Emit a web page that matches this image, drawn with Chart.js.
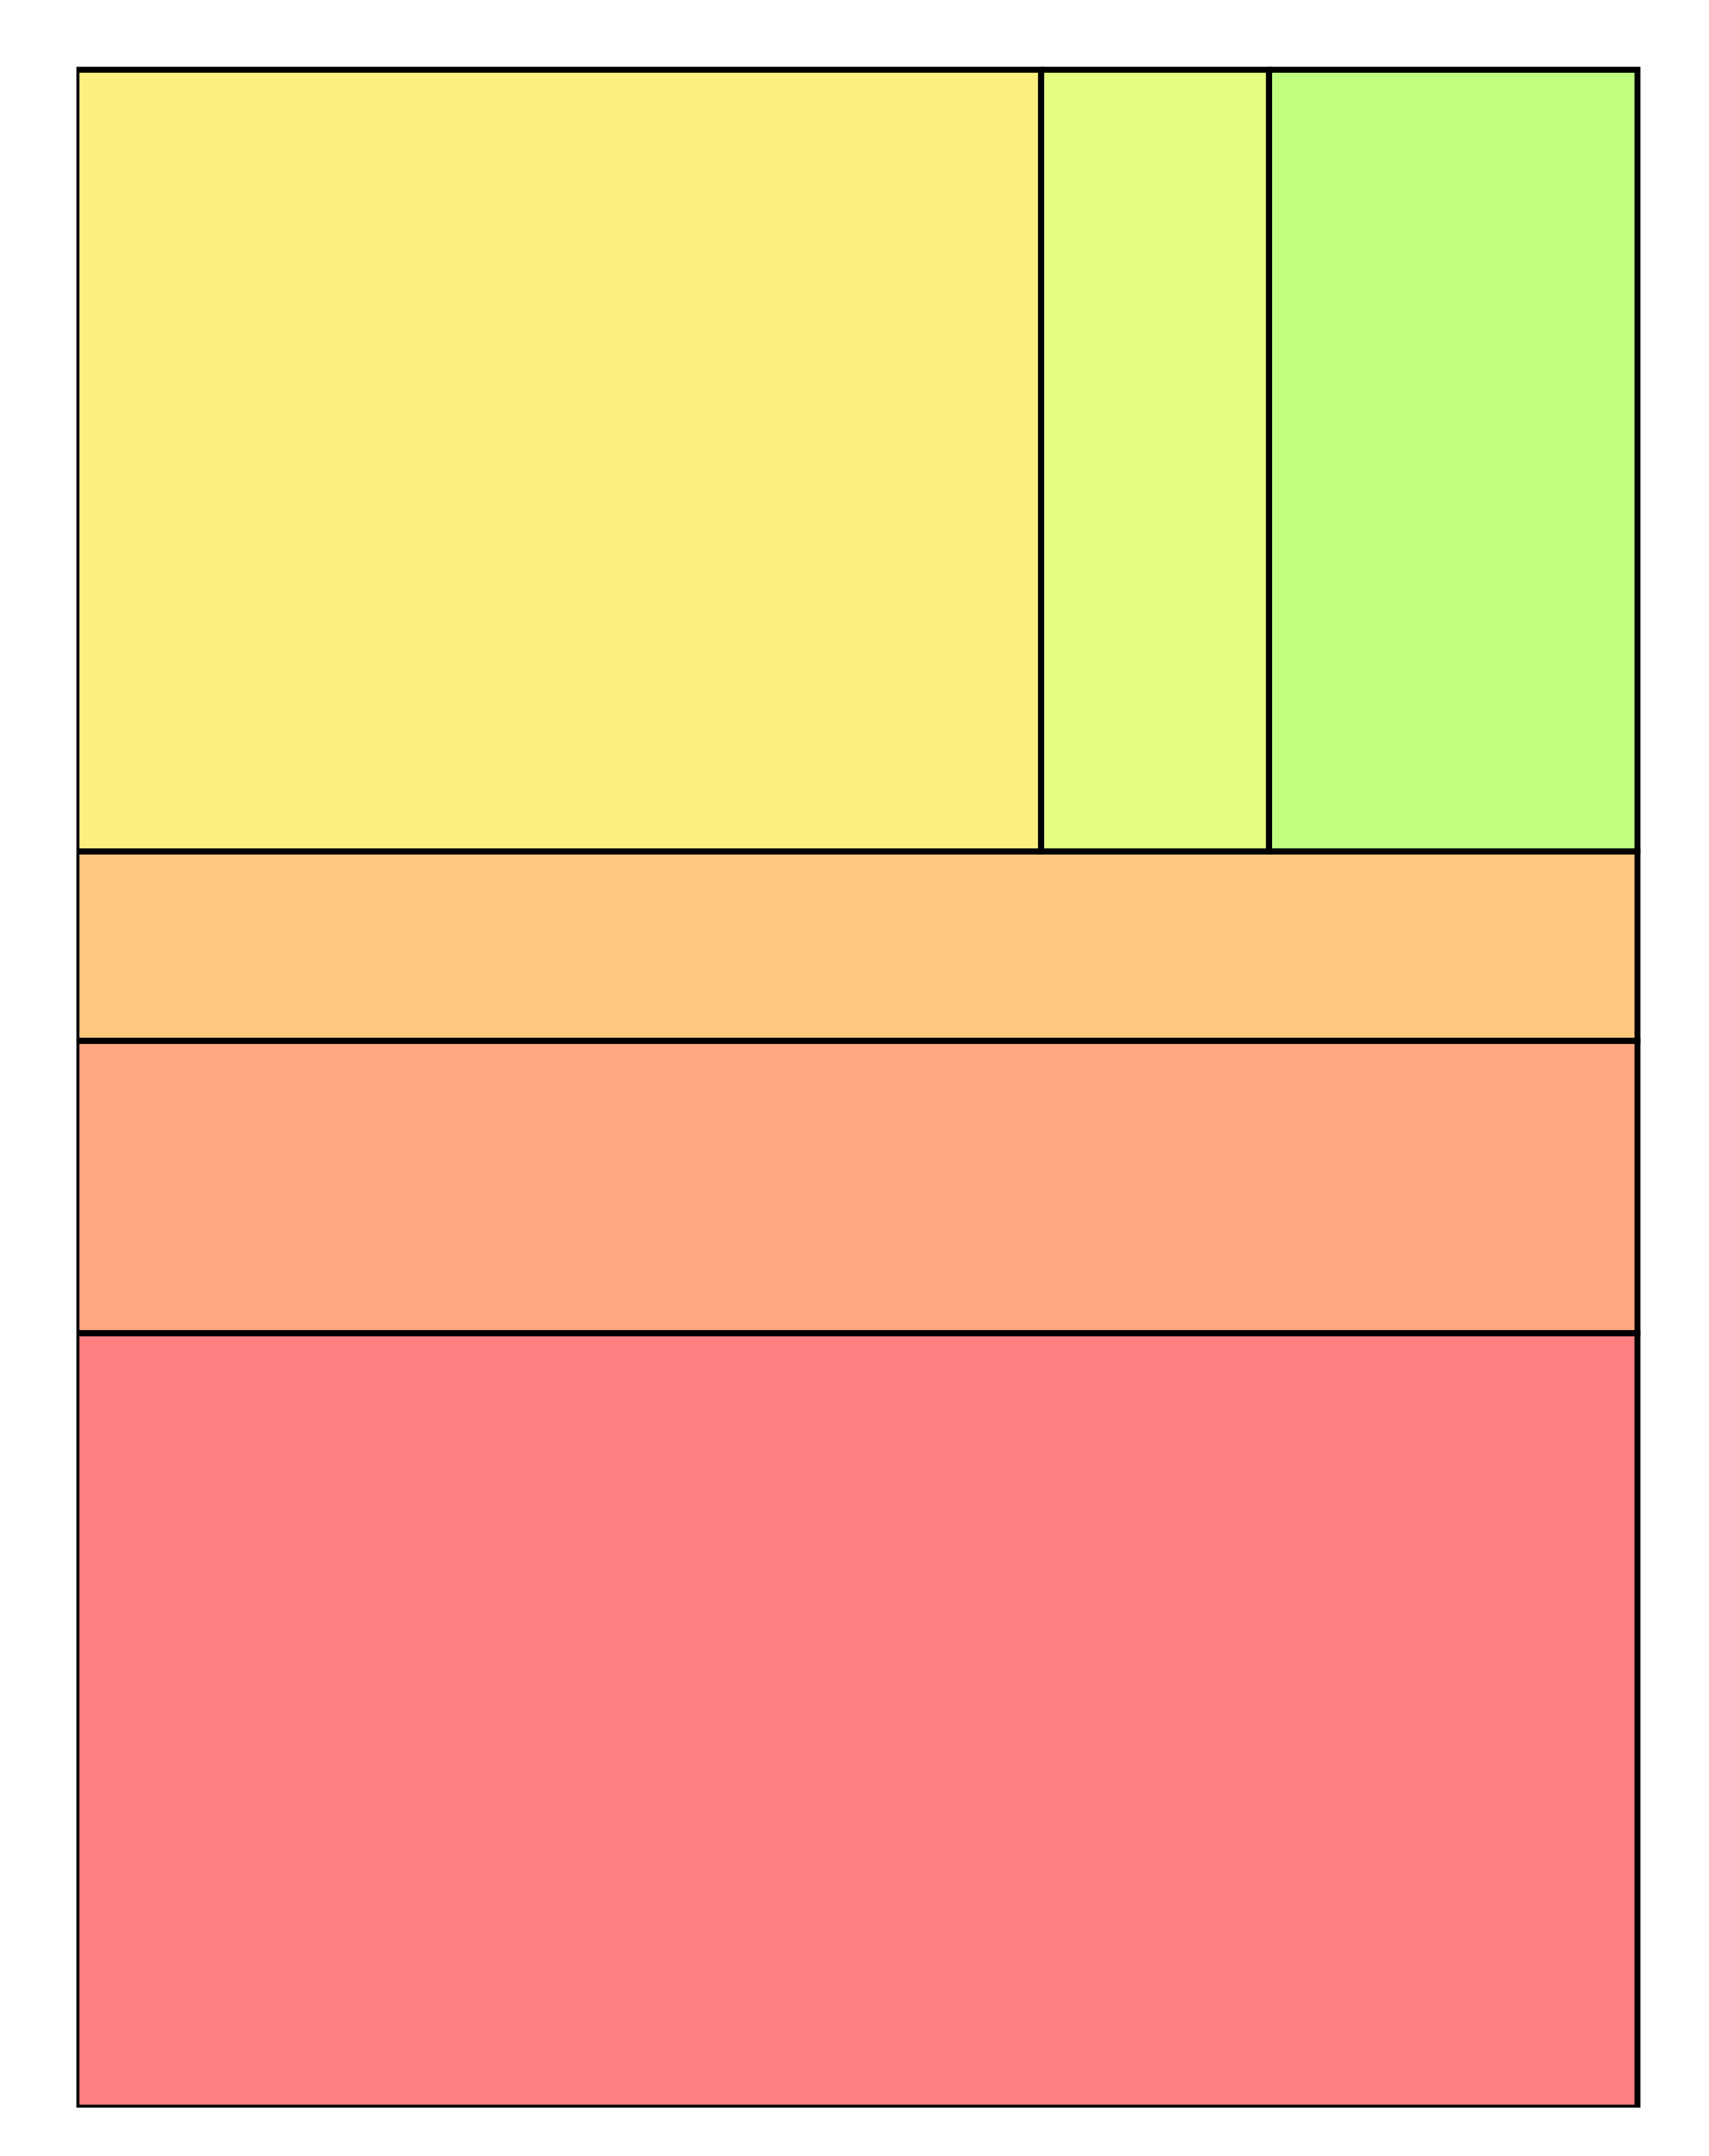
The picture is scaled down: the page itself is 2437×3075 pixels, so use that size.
<!DOCTYPE html>
<html><head><meta charset="utf-8">
<script src="https://cdn.jsdelivr.net/npm/chart.js@4.4.0/dist/chart.umd.min.js"></script>
<style>html,body{margin:0;padding:0;background:#fff;} canvas{display:block;}</style>
</head><body>
<canvas id="c" width="2437" height="3075"></canvas>
<script>
// Slice-and-dice treemap: top level stacked vertically, first group split horizontally
const rowCategories = ['Group 1', 'Item 4', 'Item 5', 'Item 6'];
const rowValues = [null, 9.3, 14.35, 38.0]; // null -> sum of the group's children
const groupCategories = ['Item 1', 'Item 2', 'Item 3'];
const groupValues = [23.7, 5.6, 9.05];

const groupColors = ['#FEF080', '#E4FE80', '#C0FE80'];
const rowColors = [null, '#FFCA80', '#FFA780', '#FF8080'];

const groupSum = groupValues.reduce((a, b) => a + b, 0);
const rowSizes = rowValues.map(v => v === null ? groupSum : v);
const total = rowSizes.reduce((a, b) => a + b, 0);

function rect(x0, y0, x1, y1) {
  return [{x: x0, y: y0}, {x: x1, y: y0}, {x: x1, y: y1}, {x: x0, y: y1}, {x: x0, y: y0}];
}
function ds(label, pts, color) {
  return {
    label, data: pts, showLine: true, fill: 'shape',
    backgroundColor: color, borderColor: '#000000', borderWidth: 8.5,
    borderJoinStyle: 'miter', pointRadius: 0, pointHoverRadius: 0, tension: 0,
    clip: {left: 0, top: 6, right: 6, bottom: 0}
  };
}

const datasets = [];
let yc = 0;
rowCategories.forEach((name, i) => {
  const h = rowSizes[i];
  if (rowValues[i] === null) {
    let xc = 0;
    groupCategories.forEach((g, j) => {
      const w = groupValues[j] / groupSum;
      datasets.push(ds(g, rect(xc, yc, xc + w, yc + h), groupColors[j]));
      xc += w;
    });
  } else {
    datasets.push(ds(name, rect(0, yc, 1, yc + h), rowColors[i]));
  }
  yc += h;
});

new Chart(document.getElementById('c'), {
  type: 'scatter',
  data: {datasets},
  options: {
    responsive: false,
    animation: false,
    events: [],
    layout: {padding: {left: 109, right: 102, top: 99.5, bottom: 69}},
    scales: {
      x: {type: 'linear', min: 0, max: 1, display: false},
      y: {type: 'linear', min: 0, max: total, reverse: true, display: false}
    },
    plugins: {
      legend: {display: false},
      tooltip: {enabled: false},
      filler: {drawTime: 'beforeDatasetsDraw'}
    }
  }
});
</script>
</body></html>
